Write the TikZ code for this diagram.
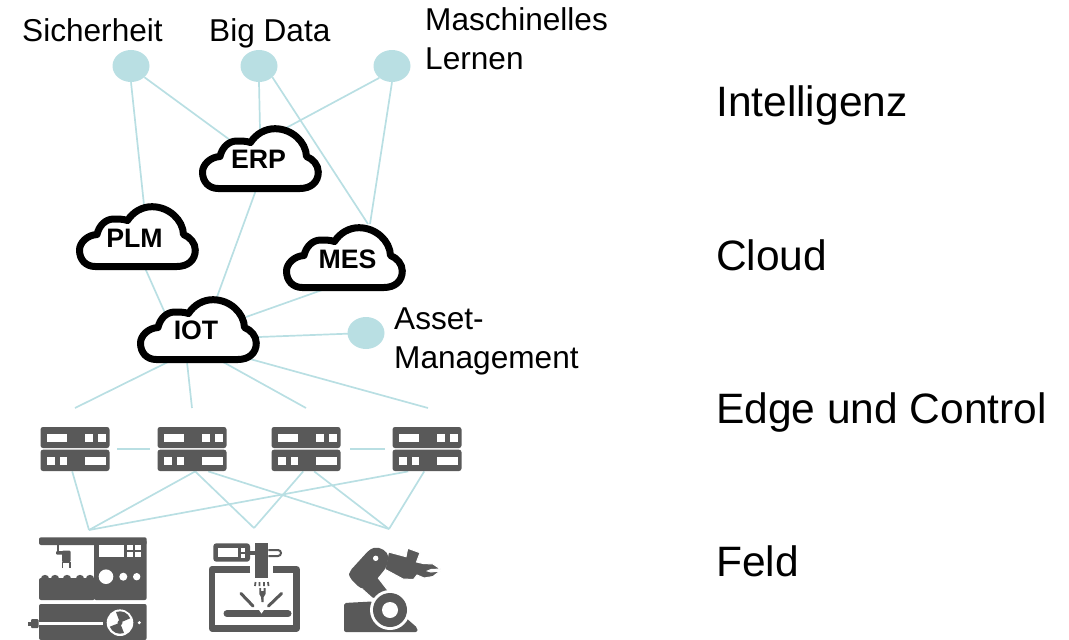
\documentclass[tikz,border=0pt]{standalone}
\usepackage{fontspec}
\setmainfont{Liberation Sans}
\usetikzlibrary{shapes.geometric}
\definecolor{linkc}{HTML}{B9DFE3}
\definecolor{iconc}{HTML}{595959}
\pgfdeclarelayer{back}
\pgfsetlayers{back,main}
\tikzset{
  lnk/.style={draw=linkc,line width=1.7pt},
  dot/.style={ellipse,fill=linkc,minimum width=37pt,minimum height=32pt,inner sep=0pt},
  lab/.style={anchor=base west,inner sep=0pt,font=\fontsize{31.6}{38.5}\selectfont,text=black},
  tier/.style={anchor=base west,inner sep=0pt,font=\fontsize{42.5}{46}\selectfont,text=black},
  cloudbox/.style={anchor=south west,inner sep=0pt,minimum width=124pt,minimum height=67pt},
  cloudtxt/.style={anchor=base,inner sep=0pt,font=\bfseries\fontsize{26.7}{30}\selectfont,text=black},
  cloudline/.style={draw=black,fill=white,line width=7pt,line join=round},
  srv/.style={anchor=north west,inner sep=0pt,minimum width=69pt,minimum height=44pt},
  icon/.style={fill=iconc,draw=none},
  hole/.style={fill=white,draw=none},
  iconline/.style={draw=iconc,line width=3pt,line cap=round},
}
\newcommand{\cloudat}[2]{%
  \path[cloudline,shift={(#1,#2)}] (19.3,-3.5) -- (101,-3.5)
    .. controls (112,-3.5) and (119.3,-10) .. (119.3,-20)
    .. controls (119.3,-27) and (114,-33) .. (107.5,-35.5)
    .. controls (107,-50) and (93,-63.3) .. (76,-63.3)
    .. controls (66,-63.3) and (57,-58) .. (51.5,-49.5)
    .. controls (47,-51) and (42,-51) .. (38,-51)
    .. controls (29,-51) and (23,-44) .. (21,-35.5)
    .. controls (11,-35) and (3.5,-27) .. (3.5,-20)
    .. controls (3.5,-10) and (10,-3.5) .. (19.3,-3.5) -- cycle;}
\newcommand{\serverat}[2]{%
  \begin{scope}[shift={(#1,#2)}]
    \fill[icon,rounded corners=2.5pt] (0,0) rectangle (69,21);
    \fill[icon,rounded corners=2.5pt] (0,22.7) rectangle (69,44);
    \fill[hole] (6.5,7) rectangle (26,14.5);
    \fill[hole] (44,7) rectangle (52,14.5);
    \fill[hole] (57,7) rectangle (65,14.5);
    \fill[hole] (6.5,30) rectangle (14,37.5);
    \fill[hole] (19,30) rectangle (26,37.5);
    \fill[hole] (44,30) rectangle (65,37.5);
  \end{scope}}
\begin{document}
\begin{tikzpicture}[x=1pt,y=-1pt]
\useasboundingbox (0,0) rectangle (1069,640);
% dots
\node[dot] (sec) at (131,66) {};
\node[dot] (big) at (259,66) {};
\node[dot] (ml) at (392,66) {};
\node[dot] (asset) at (366,333) {};
% labels
\node[lab] (tsec) at (22,41) {Sicherheit};
\node[lab] (tbig) at (209,41) {Big Data};
\node[lab,align=left] (tml) at (425,69) {Maschinelles\\Lernen};
\node[lab,align=left] (tasset) at (394,368) {Asset-\\Management};
% tiers
\node[tier] (t1) at (716,116) {Intelligenz};
\node[tier] (t2) at (716,270) {Cloud};
\node[tier] (t3) at (716,423) {Edge und Control};
\node[tier] (t4) at (716,576) {Feld};
% clouds
\node[cloudbox] (erp) at (199,192) {};
\node[cloudbox] (plm) at (76,270) {};
\node[cloudbox] (mes) at (283,291) {};
\node[cloudbox] (iot) at (137,363) {};
\cloudat{199}{192}\cloudat{76}{270}\cloudat{283}{291}\cloudat{137}{363}
\node[cloudtxt] (terp) at (258.5,168) {ERP};
\node[cloudtxt] (tplm) at (134.5,247) {PLM};
\node[cloudtxt] (tmes) at (347.5,268) {MES};
\node[cloudtxt] (tiot) at (196,339) {IOT};
% servers
\node[srv] (s1) at (40.5,427) {};
\node[srv] (s2) at (157.5,427) {};
\node[srv] (s3) at (271.5,427) {};
\node[srv] (s4) at (392.5,427) {};
\serverat{40.5}{427}\serverat{157.5}{427}\serverat{271.5}{427}\serverat{392.5}{427}
% free ends
\coordinate (e1) at (75,408);
\coordinate (e2) at (192,408);
\coordinate (e3) at (306,408);
\coordinate (e4) at (428,408);
\coordinate (j1) at (89,530);
\coordinate (j2) at (254,528);
\coordinate (j3) at (389,529);
\coordinate (l1) at (117,449);
\coordinate (l2) at (150,449);
\coordinate (l3) at (350,449);
\coordinate (l4) at (385,449);
\begin{pgfonlayer}{back}
\draw[lnk] (sec.south) -- ([shift={(68,-65)}]plm.south west);
\draw[lnk] (sec.320) -- ([shift={(31,-52)}]erp.south west);
\draw[lnk] (big.south) -- ([shift={(61,-63)}]erp.south west);
\draw[lnk] (big.320) -- ([shift={(85,-67)}]mes.south west);
\draw[lnk] (ml.223) -- ([shift={(87,-64)}]erp.south west);
\draw[lnk] (ml.south) -- ([shift={(87,-67)}]mes.south west);
\draw[lnk] ([shift={(57,-2)}]erp.south west) -- ([shift={(80,-66)}]iot.south west);
\draw[lnk] ([shift={(69,-2)}]plm.south west) -- ([shift={(28,-50)}]iot.south west);
\draw[lnk] ([shift={(42,-2)}]mes.south west) -- ([shift={(109,-46)}]iot.south west);
\draw[lnk] ([shift={(122,-26)}]iot.south west) -- (asset.center);
\draw[lnk] ([shift={(31,-1)}]iot.south west) -- (e1);
\draw[lnk] ([shift={(50,-1)}]iot.south west) -- (e2);
\draw[lnk] ([shift={(86,-1)}]iot.south west) -- (e3);
\draw[lnk] ([shift={(113,-4)}]iot.south west) -- (e4);
\draw[lnk] (l1) -- (l2);
\draw[lnk] (l3) -- (l4);
\draw[lnk] ([xshift=-3pt]s1.south) -- (j1);
\draw[lnk] ([xshift=3pt]s2.south) -- (j1);
\draw[lnk] ([xshift=-19pt]s4.south) -- (j1);
\draw[lnk] ([xshift=3pt]s2.south) -- (j2);
\draw[lnk] ([xshift=16pt]s2.south) -- (j3);
\draw[lnk] ([xshift=-3pt]s3.south) -- (j2);
\draw[lnk] ([xshift=8pt]s3.south) -- (j3);
\draw[lnk] ([xshift=-3pt]s4.south) -- (j3);
\end{pgfonlayer}
% machine tool
\fill[icon,rounded corners=2pt] (39,537.3) rectangle (146.7,545);
\fill[icon,rounded corners=2pt] (94,540) rectangle (146.7,600);
\fill[hole] (99,545) rectangle (124,557.3);
\fill[hole] (127.3,545) rectangle (133.3,550);
\fill[hole] (135,545) rectangle (140.7,550);
\fill[hole] (127.3,552.3) rectangle (133.3,557.3);
\fill[hole] (135,552.3) rectangle (140.7,557.3);
\fill[hole] (106,576.7) circle[radius=7.3];
\fill[hole] (123.3,576.7) circle[radius=4];
\fill[hole] (136.7,576.7) circle[radius=3.7];
\fill[icon,rounded corners=2pt] (39,578) rectangle (95,600);
\foreach \bx in {45,55,67,80,90}{\fill[icon] (\bx,579) circle[radius=4.2];}
\fill[icon,rounded corners=2pt] (39,604) rectangle (146.7,640);
\fill[hole] (39,622) rectangle (103,624.6);
\fill[icon,rounded corners=1pt] (31,619) rectangle (38.5,628);
\fill[icon] (28,621.5) rectangle (32,625.5);
\fill[hole] (120,622.7) circle[radius=13.3];
\fill[icon] (120,622.7) -- (116,612) arc[start angle=249,end angle=339,radius=11] -- cycle;
\fill[icon] (120,622.7) -- (124,633) arc[start angle=69,end angle=159,radius=11] -- cycle;
\fill[icon] (120,622.7) circle[radius=2.5];
\fill[hole] (139.3,622.7) circle[radius=1.7];
\draw[draw=iconc,line width=1.2pt,fill=none] (58,545) -- (58,551.5);
\fill[icon,rounded corners=1pt] (56,551) rectangle (64,554.5);
\fill[icon,rounded corners=1pt] (62,550.5) rectangle (70.5,562);
\draw[iconc,line width=1.6pt,fill=none] (62.5,568) -- (62.5,562.5) -- (70,562.5) -- (70,568);
% printer
\draw[iconc,line width=6.5pt,line join=round] (250,569.3) -- (212,569.3) -- (212,628.3) -- (296.7,628.3) -- (296.7,569.3) -- (272.7,569.3);
\fill[icon,rounded corners=3pt] (213.3,543.3) rectangle (250,561.7);
\fill[hole] (218.3,548.3) rectangle (237.7,557.3);
\fill[hole] (240.7,548.3) rectangle (245,551.7);
\fill[hole] (240.7,554) rectangle (245,558.3);
\fill[icon] (250,551) rectangle (255,555);
\fill[icon] (255,543.3) rectangle (268.3,578.3);
\draw[iconc,line width=2pt,rounded corners=3pt] (268.3,550) -- (281,550) -- (281,556) -- (268.3,556);
\draw[iconc,line width=1.8pt] (255.5,582) -- (255,586) (259.5,582) -- (259.5,586) (264,582) -- (264,586) (268,582) -- (268.5,586);
\fill[icon] (259.3,588) -- (261,588) -- (261,591) -- (263.5,591) -- (263.5,588) -- (265.5,588) -- (265.5,594) -- (263.7,597) -- (263.5,602) -- (261.5,602) -- (261,597) -- (259.3,594) -- cycle;
\draw[iconline] (241,593.5) -- (253,606);
\draw[iconline] (281.5,593.5) -- (268.5,606);
\draw[iconc,line width=7pt,line cap=round] (227,613.7) -- (288,613.7);
\fill[hole] (259,610) -- (264,610) -- (261.5,613.5) -- cycle;
% robot
\fill[icon,rounded corners=2pt] (344,603) -- (372,601.5) -- (395,610) -- (405,617) -- (417.5,628) -- (417.5,632) -- (344,632) -- cycle;
\path[fill=iconc,draw=white,line width=1.2pt] (376,575) -- (390,593) -- (385,602) -- (372,598) -- (362,589) -- cycle;
\fill[hole] (390,610) circle[radius=20];
\fill[icon] (390,610) circle[radius=17];
\fill[hole] (390,610) circle[radius=8];
\path[fill=iconc,draw=white,line width=1pt] (388.5,552) -- (406,556.7) -- (407.7,548.3) -- (420,552.7) -- (416.5,562) -- (423,563.5) -- (433,564) -- (440.5,569) -- (431,569.5) -- (427.5,571) -- (431,572) -- (440,571) -- (433,576.5) -- (424,578) -- (417,575) -- (413.5,579.5) -- (403,579) -- (385,569.3) -- cycle;
\path[fill=iconc,draw=none,rounded corners=4pt] (349,572) -- (370,549) .. controls (380,546) and (388,552) .. (388,560) -- (386.7,567) -- (368.3,589.5) -- (360,588.3) -- (349,577) -- cycle;
\fill[hole] (375.7,558.3) circle[radius=2.7];
\end{tikzpicture}
\end{document}
